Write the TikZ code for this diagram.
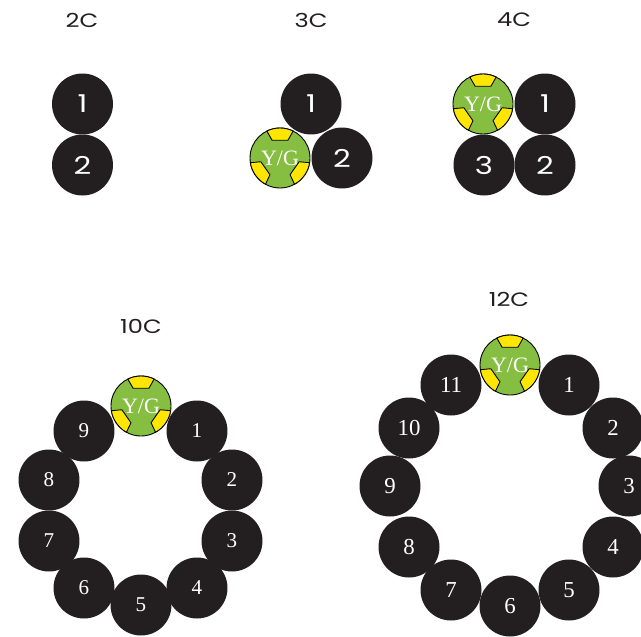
\documentclass[tikz,border=0pt]{standalone}
\usepackage{fontspec}
\setmainfont{Liberation Serif}
\newfontfamily\gothic[FakeStretch=1.25]{Poppins}
\definecolor{corefill}{HTML}{231F20}
\definecolor{earthgreen}{HTML}{86BE42}
\definecolor{earthyellow}{HTML}{FFE600}
\tikzset{
  core/.style={circle,fill=corefill,inner sep=0pt,minimum size=1.22cm,text=white,font=\fontsize{12}{12}\selectfont},
  coresans/.style={core,font=\gothic\fontsize{14}{14}\selectfont},
  title/.style={text=corefill,font=\gothic\fontsize{11}{11}\selectfont},
  earthdisc/.style={circle,draw=black,line width=0.5pt,fill=earthgreen,inner sep=0pt,minimum size=1.2cm},
  earthtext/.style={text=white,inner sep=0pt,font=\fontsize{12.5}{12.5}\selectfont},
  earthpiece/.style={draw=black,line width=0.5pt,fill=earthyellow},
  earth/.pic={
    \node[earthdisc] (disc) at (0,0) {};
    \foreach \a in {270,35,145}
      \draw[earthpiece] (\a-26:30) arc[start angle=\a-26,end angle=\a+26,radius=30]
        -- (\a+24:19.5) -- (\a-24:19.5) -- cycle;
    \node[earthtext] (text) at (0,0) {Y/G};
  }
}
\begin{document}
\begin{tikzpicture}[x=0.02cm,y=-0.02cm]
  \useasboundingbox (0,0) rectangle (641,636);
  % titles
  \node[title] (t2) at (82,20) {2C};
  \node[title] (t3) at (311,20) {3C};
  \node[title] (t4) at (514,20) {4C};
  \node[title] (t10) at (141,326) {10C};
  \node[title] (t12) at (509,299) {12C};
  % 2C
  \node[coresans] (a1) at (82.5,104) {1};
  \node[coresans] (a2) at (82.5,165) {2};
  % 3C
  \node[coresans] (b1) at (311,104) {1};
  \node[coresans] (b2) at (342,158) {2};
  \pic (bE) at (280,158) {earth};
  % 4C
  \node[coresans] (c1) at (545,104) {1};
  \node[coresans] (c2) at (545,165) {2};
  \node[coresans] (c3) at (484,165) {3};
  \pic (cE) at (483,104) {earth};
  % 10C
  \foreach \n/\x/\y in {1/197/431,2/232/480,3/232/541,4/197/588,5/141/605,6/84/588,7/49/541,8/49/480,9/84/431}
    \node[core] (d\n) at (\x,\y) {\n};
  \pic (dE) at (141,406) {earth};
  % 12C
  \foreach \n/\x/\y in {1/569/385,2/613/428,3/629/486,4/613/547,5/569/590,6/510/606,7/451/590,8/409/547,9/390/486,10/409/428,11/451/385}
    \node[core,font=\fontsize{13}{13}\selectfont] (e\n) at (\x,\y) {\n};
  \pic (eE) at (510,365) {earth};
\end{tikzpicture}
\end{document}
